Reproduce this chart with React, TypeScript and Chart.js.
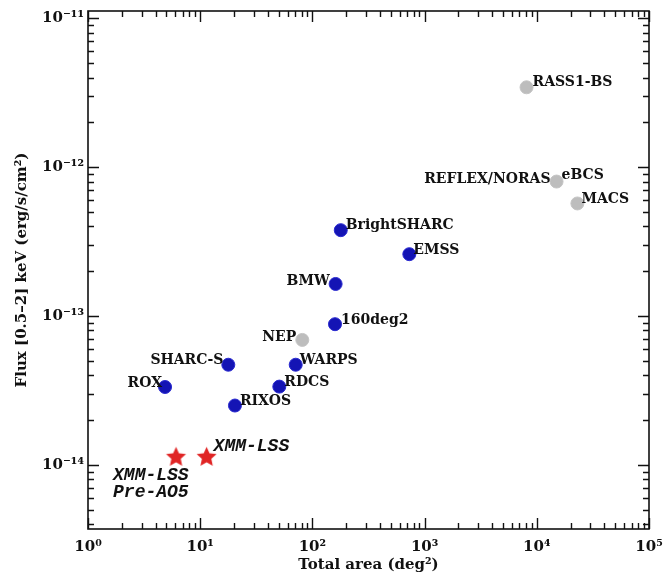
import React, { useEffect, useRef } from "react";
import { Chart, registerables } from "chart.js";

Chart.register(...registerables);

// ---- data ----
const blueNames = ["BrightSHARC", "EMSS", "BMW", "160deg2", "WARPS", "SHARC-S", "ROX", "RDCS", "RIXOS"];
const blueArea = [179, 731, 161, 159, 71, 17.8, 4.86, 50.7, 20.4];
const blueFlux = [3.77e-13, 2.6e-13, 1.64e-13, 8.8e-14, 4.7e-14, 4.7e-14, 3.33e-14, 3.35e-14, 2.5e-14];

const grayNames = ["RASS1-BS", "eBCS|REFLEX/NORAS", "MACS", "NEP"];
const grayArea = [8100, 15000, 23000, 81.3];
const grayFlux = [3.44e-12, 8.0e-13, 5.7e-13, 6.9e-14];

const starNames = ["XMM-LSS\nPre-AO5", "XMM-LSS"];
const starArea = [6.09, 11.4];
const starFlux = [1.14e-14, 1.14e-14];

const xTickValues = [1, 10, 100, 1000, 10000, 100000];
const xTickLabels = ["10⁰", "10¹", "10²", "10³", "10⁴", "10⁵"];
const yTickValues = [1e-14, 1e-13, 1e-12, 1e-11];
const yTickLabels = ["10⁻¹⁴", "10⁻¹³", "10⁻¹²", "10⁻¹¹"];

const xMin = 1, xMax = 1e5;
const yMin = 3.7e-15, yMax = 1.12e-11;

// ---- label placement (style only) ----
type Place = { dx: number; dy: number; align: CanvasTextAlign; font?: string; lh?: number };
const SERIF = "bold 14px 'DejaVu Serif'";
const MONO = "bold italic 18px 'Liberation Mono'";
const placement: Record<string, Place> = {
  "RASS1-BS": { dx: 6, dy: -5, align: "left" },
  "eBCS": { dx: 5, dy: -6, align: "left" },
  "REFLEX/NORAS": { dx: -6, dy: -2, align: "right" },
  "MACS": { dx: 4, dy: -4, align: "left" },
  "EMSS": { dx: 4, dy: -4, align: "left" },
  "BrightSHARC": { dx: 5, dy: -5, align: "left" },
  "BMW": { dx: -6, dy: -3, align: "right" },
  "160deg2": { dx: 6, dy: -4, align: "left" },
  "NEP": { dx: -6, dy: -3, align: "right" },
  "WARPS": { dx: 4, dy: -4, align: "left" },
  "SHARC-S": { dx: -5, dy: -4, align: "right" },
  "ROX": { dx: -3, dy: -4, align: "right" },
  "RDCS": { dx: 5, dy: -4, align: "left" },
  "RIXOS": { dx: 5, dy: -4, align: "left" },
  "XMM-LSS": { dx: 7, dy: -10, align: "left", font: MONO },
  "XMM-LSS\nPre-AO5": { dx: -63, dy: 19, align: "left", font: MONO, lh: 17 },
};

function makeStar(r: number, color: string) {
  const c = document.createElement("canvas");
  const size = Math.ceil(r * 2 + 2);
  c.width = size;
  c.height = size;
  const ctx = c.getContext("2d")!;
  ctx.beginPath();
  for (let i = 0; i < 10; i++) {
    const ang = -Math.PI / 2 + (i * Math.PI) / 5;
    const rad = i % 2 === 0 ? r : r * 0.47;
    ctx.lineTo(size / 2 + rad * Math.cos(ang), size / 2 + rad * Math.sin(ang) + 1);
  }
  ctx.closePath();
  ctx.fillStyle = color;
  ctx.fill();
  return c;
}

const frameTicksPlugin = {
  id: "frameTicks",
  afterDraw(chart: any) {
    const { ctx, chartArea: a, scales } = chart;
    ctx.save();
    ctx.strokeStyle = "#111";
    ctx.lineWidth = 1.6;
    ctx.strokeRect(a.left, a.top, a.right - a.left, a.bottom - a.top);
    ctx.lineWidth = 1.4;
    const xs = scales.x, ys = scales.y;
    ctx.beginPath();
    for (let d = Math.floor(Math.log10(xs.min)); d <= Math.ceil(Math.log10(xs.max)); d++) {
      for (let m = 1; m <= 9; m++) {
        const v = m * Math.pow(10, d);
        if (v < xs.min * 0.9999 || v > xs.max * 1.0001) continue;
        const p = Math.round(xs.getPixelForValue(v)) + 0.5;
        const len = m === 1 ? 11 : 6;
        ctx.moveTo(p, a.bottom);
        ctx.lineTo(p, a.bottom - len);
        ctx.moveTo(p, a.top);
        ctx.lineTo(p, a.top + len);
      }
    }
    for (let d = Math.floor(Math.log10(ys.min)); d <= Math.ceil(Math.log10(ys.max)); d++) {
      for (let m = 1; m <= 9; m++) {
        const v = m * Math.pow(10, d);
        if (v < ys.min * 0.9999 || v > ys.max * 1.0001) continue;
        const p = Math.round(ys.getPixelForValue(v)) + 0.5;
        const len = m === 1 ? 11 : 6;
        ctx.moveTo(a.left, p);
        ctx.lineTo(a.left + len, p);
        ctx.moveTo(a.right, p);
        ctx.lineTo(a.right - len, p);
      }
    }
    ctx.stroke();
    ctx.restore();
  },
};

const labelPlugin = {
  id: "pointLabels",
  afterDatasetsDraw(chart: any) {
    const { ctx } = chart;
    ctx.save();
    ctx.fillStyle = "#111";
    ctx.textBaseline = "middle";
    chart.data.datasets.forEach((ds: any, di: number) => {
      const meta = chart.getDatasetMeta(di);
      (ds.names || []).forEach((nm: string, i: number) => {
        const el = meta.data[i];
        if (!el) return;
        nm.split("|").forEach((name) => {
          const pl = placement[name] || { dx: 6, dy: -4, align: "left" as CanvasTextAlign };
          ctx.font = pl.font || SERIF;
          ctx.textAlign = pl.align;
          name.split("\n").forEach((line, li) => {
            ctx.fillText(line, el.x + pl.dx, el.y + pl.dy + li * (pl.lh || 16));
          });
        });
      });
    });
    ctx.restore();
  },
};

export default function App() {
  const ref = useRef<HTMLCanvasElement | null>(null);
  useEffect(() => {
    if (!ref.current) return;
    const star = makeStar(10.5, "#e02424");
    const toPts = (xs: number[], ys: number[]) => xs.map((x, i) => ({ x, y: ys[i] }));
    const tickFont = { family: "'DejaVu Serif'", size: 15, weight: "bold" as const };
    const titleFont = { family: "'DejaVu Serif'", size: 15, weight: "bold" as const };
    const chart = new Chart(ref.current, {
      type: "scatter",
      data: {
        datasets: [
          {
            label: "gray",
            data: toPts(grayArea, grayFlux),
            names: grayNames,
            pointRadius: 6.5,
            pointHoverRadius: 6.5,
            backgroundColor: "#bdbdbd",
            borderColor: "#c4c4c4",
            borderWidth: 1,
          } as any,
          {
            label: "blue",
            data: toPts(blueArea, blueFlux),
            names: blueNames,
            pointRadius: 6.5,
            pointHoverRadius: 6.5,
            backgroundColor: "#1414b4",
            borderColor: "#2a2ad0",
            borderWidth: 1,
          } as any,
          {
            label: "stars",
            data: toPts(starArea, starFlux),
            names: starNames,
            pointStyle: star,
            pointRadius: 10,
            backgroundColor: "#e02424",
          } as any,
        ],
      },
      options: {
        responsive: false,
        animation: false,
        events: [],
        layout: { padding: { top: 10, right: 14, left: 0, bottom: 0 } },
        plugins: { legend: { display: false }, tooltip: { enabled: false } },
        scales: {
          x: {
            type: "logarithmic",
            min: xMin,
            max: xMax,
            grid: { display: false, drawTicks: false },
            border: { display: false },
            afterBuildTicks: (s: any) => {
              s.ticks = xTickValues.map((v) => ({ value: v }));
            },
            afterFit: (s: any) => {
              s.height = 50;
              s.paddingLeft = 0;
              s.paddingRight = 0;
            },
            ticks: {
              autoSkip: false,
              maxRotation: 0,
              padding: 9,
              color: "#111",
              font: tickFont,
              callback: (v: any) => {
                const i = xTickValues.findIndex((t) => Math.abs(t - v) / t < 1e-6);
                return i >= 0 ? xTickLabels[i] : "";
              },
            },
            title: {
              display: true,
              text: "Total area (deg²)",
              color: "#111",
              font: titleFont,
              padding: { top: 0, bottom: 5 },
            },
          },
          y: {
            type: "logarithmic",
            min: yMin,
            max: yMax,
            grid: { display: false, drawTicks: false },
            border: { display: false },
            afterBuildTicks: (s: any) => {
              s.ticks = yTickValues.map((v) => ({ value: v }));
            },
            afterFit: (s: any) => {
              s.width = 88;
              s.paddingTop = 0;
              s.paddingBottom = 0;
            },
            ticks: {
              autoSkip: false,
              padding: 4,
              color: "#111",
              font: tickFont,
              callback: (v: any) => {
                const i = yTickValues.findIndex((t) => Math.abs(t - v) / t < 1e-6);
                return i >= 0 ? yTickLabels[i] : "";
              },
            },
            title: {
              display: true,
              text: "Flux [0.5–2] keV (erg/s/cm²)",
              color: "#111",
              font: titleFont,
              padding: { top: 13, bottom: 0 },
            },
          },
        },
      } as any,
      plugins: [frameTicksPlugin, labelPlugin],
    });
    return () => chart.destroy();
  }, []);
  return (
    <div style={{ position: "fixed", left: 0, top: 0, width: 663, height: 579, background: "#fff" }}>
      <canvas ref={ref} width={663} height={579} style={{ display: "block" }} />
    </div>
  );
}
